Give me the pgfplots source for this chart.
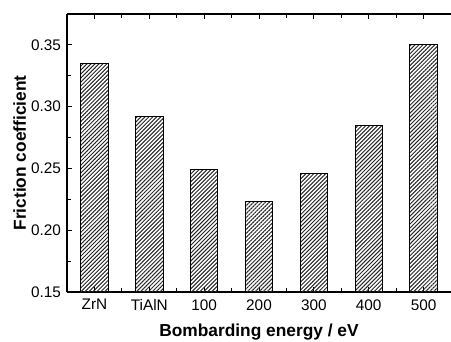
\documentclass[border=0pt]{standalone}
\usepackage{fontspec}
\setmainfont{Liberation Sans}
\usepackage{pgfplots}
\pgfplotsset{compat=1.18}
\usetikzlibrary{patterns.meta}
\begin{document}
\begin{tikzpicture}
\begin{axis}[
  scale only axis,
  width=288pt, height=208.5pt,
  xmin=-0.5, xmax=6.5,
  ymin=0.15, ymax=0.375,
  axis x line=box, axis y line=left,
  axis line style={-, line width=0.8pt},
  xtick={0,...,6},
  xticklabels={ZrN,TiAlN,100,200,300,400,500},
  minor x tick num=1,
  ytick={0.15,0.20,0.25,0.30,0.35},
  minor y tick num=1,
  yticklabel style={xshift=-1pt},
  y tick label style={/pgf/number format/fixed, /pgf/number format/fixed zerofill, /pgf/number format/precision=2},
  /pgf/number format/assume math mode=true,
  tick align=inside,
  major tick length=4pt,
  minor tick length=3pt,
  tick style={black, line width=0.6pt},
  ticklabel style={font=\fontsize{11.5pt}{13pt}\selectfont},
  xlabel={\textbf{Bombarding energy / eV}},
  ylabel={\textbf{Friction coefficient}},
  label style={font=\fontsize{13pt}{15pt}\selectfont},
  xlabel style={yshift=-3pt},
  ylabel style={yshift=-3pt},
  xticklabel style={yshift=-2pt},
  clip=false,
]
\addplot[ybar, bar width=0.5, draw=black, line width=0.6pt,
  pattern={Lines[angle=45,distance=2.1pt,line width=0.75pt]}, pattern color=black!85]
  coordinates {(0,0.335) (1,0.292) (2,0.249) (3,0.223) (4,0.246) (5,0.285) (6,0.350)};
\coordinate (sw) at (rel axis cs:0,0);
\coordinate (ne) at (rel axis cs:1,1);
\end{axis}
\pgfresetboundingbox
\path ([xshift=-50.25pt,yshift=-36.75pt]sw) rectangle ([yshift=10.5pt]ne);
\end{tikzpicture}
\end{document}
